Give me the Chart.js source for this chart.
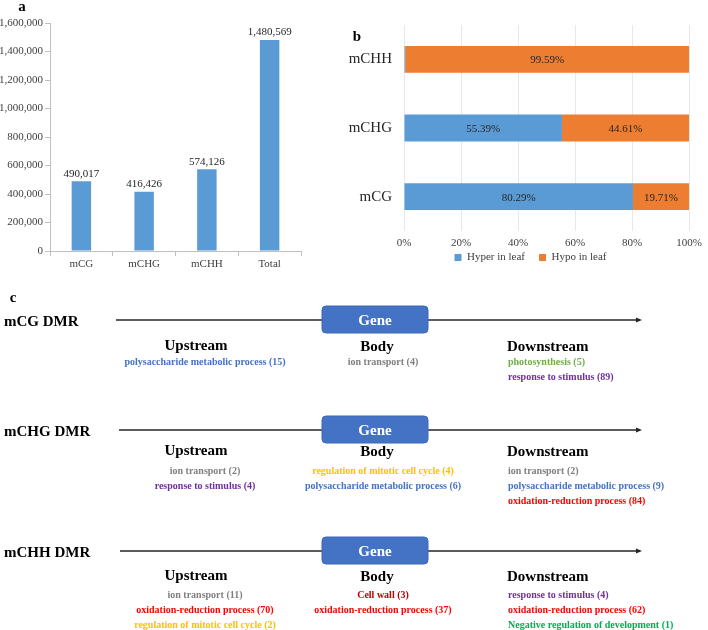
<!DOCTYPE html>
<html>
<head>
<meta charset="utf-8">
<script src="https://cdn.jsdelivr.net/npm/chart.js@4.4.0/dist/chart.umd.min.js"></script>
<style>
  body { margin: 0; background: #fff; }
  #page { position: relative; width: 708px; height: 630px; overflow: hidden; }
  #chartA { position: absolute; left: 0; top: 0; }
  #chartB { position: absolute; left: 340px; top: 0; }
  #diagram { position: absolute; left: 0; top: 0; }
</style>
</head>
<body>
<div id="page">
  <canvas id="chartA" width="320" height="280"></canvas>
  <canvas id="chartB" width="368" height="273"></canvas>
  <svg id="diagram" width="708" height="630" xmlns="http://www.w3.org/2000/svg"></svg>
</div>
<script>
// panel a: number of methylated sites
const countCategories = ['mCG', 'mCHG', 'mCHH', 'Total'];
const countValues = [490017, 416426, 574126, 1480569];
const countTicks = [0, 200000, 400000, 600000, 800000, 1000000, 1200000, 1400000, 1600000];

// panel b: share of DMRs (top to bottom)
const dmrTypes = ['mCHH', 'mCHG', 'mCG'];
const hyperShare = [0.41, 55.39, 80.29];
const hypoShare = [99.59, 44.61, 19.71];
const shareTicks = [0, 20, 40, 60, 80, 100];

// panel c: enriched GO terms per region
const dmrNames = ['mCG DMR', 'mCHG DMR', 'mCHH DMR'];
const regionNames = ['Upstream', 'Body', 'Downstream'];
const upstreamTerms = [
    [['polysaccharide metabolic process (15)', 'blue']],
    [['ion transport (2)', 'gray'], ['response to stimulus (4)', 'purple']],
    [['ion transport (11)', 'gray'], ['oxidation-reduction process (70)', 'red'], ['regulation of mitotic cell cycle (2)', 'yellow']]
];
const bodyTerms = [
    [['ion transport (4)', 'gray']],
    [['regulation of mitotic cell cycle (4)', 'yellow'], ['polysaccharide metabolic process (6)', 'blue']],
    [['Cell wall (3)', 'darkred'], ['oxidation-reduction process (37)', 'red']]
];
const downstreamTerms = [
    [['photosynthesis (5)', 'green'], ['response to stimulus (89)', 'purple']],
    [['ion transport (2)', 'gray'], ['polysaccharide metabolic process (9)', 'blue'], ['oxidation-reduction process (84)', 'red']],
    [['response to stimulus (4)', 'purple'], ['oxidation-reduction process (62)', 'red'], ['Negative regulation of development (1)', 'brightgreen']]
];

const SERIF = "'Liberation Serif', 'Times New Roman', serif";
Chart.defaults.font.family = SERIF;
Chart.defaults.font.size = 11;
Chart.defaults.color = '#404040';

// draws value labels on top of bars or in the middle of stacked segments
const valueLabels = {
    id: 'valueLabels',
    afterDatasetsDraw(chart, args, opts) {
        const ctx = chart.ctx;
        ctx.save();
        ctx.font = '11px ' + SERIF;
        ctx.fillStyle = '#262626';
        ctx.textAlign = 'center';
        chart.data.datasets.forEach((ds, i) => {
            chart.getDatasetMeta(i).data.forEach((bar, j) => {
                const v = ds.data[j];
                if (opts.mode === 'top') {
                    ctx.textBaseline = 'bottom';
                    ctx.fillText(v.toLocaleString('en-US'), bar.x, bar.y - 2);
                } else if (v > 5) {
                    ctx.textBaseline = 'middle';
                    ctx.fillText(v.toFixed(2) + '%', (bar.x + bar.base) / 2, bar.y + 1);
                }
            });
        });
        ctx.restore();
    }
};

// nudges the legend sideways (it is centred on the whole canvas otherwise)
const legendShift = {
    id: 'legendShift',
    afterLayout(chart, args, opts) {
        if (chart.legend) {
            chart.legend.left += opts.dx;
            chart.legend.right += opts.dx;
        }
    }
};

// Panel a
new Chart(document.getElementById('chartA'), {
    type: 'bar',
    data: {
        labels: countCategories,
        datasets: [{
            data: countValues,
            backgroundColor: '#5B9BD5',
            barPercentage: 0.31,
            categoryPercentage: 1
        }]
    },
    plugins: [valueLabels],
    options: {
        responsive: false,
        animation: false,
        layout: { padding: { top: 23, right: 19, left: 0, bottom: 0 } },
        plugins: {
            legend: { display: false },
            tooltip: { enabled: false },
            valueLabels: { mode: 'top' }
        },
        scales: {
            x: {
                grid: { offset: true, drawOnChartArea: false, tickLength: 5, color: '#bfbfbf' },
                border: { color: '#bfbfbf' },
                ticks: { padding: 2, color: '#404040' },
                afterFit: (s) => { s.height = 29; }
            },
            y: {
                min: 0,
                max: 1600000,
                afterBuildTicks: (s) => { s.ticks = countTicks.map(v => ({ value: v })); },
                grid: { drawOnChartArea: false, tickLength: 5, color: '#bfbfbf' },
                border: { color: '#bfbfbf' },
                ticks: { padding: 2, color: '#404040', callback: (v) => v.toLocaleString('en-US') },
                afterFit: (s) => { s.width = 50; }
            }
        }
    }
});

// Panel b
new Chart(document.getElementById('chartB'), {
    type: 'bar',
    data: {
        labels: dmrTypes,
        datasets: [
            { label: 'Hyper in leaf', data: hyperShare, backgroundColor: '#5B9BD5', barPercentage: 0.39, categoryPercentage: 1 },
            { label: 'Hypo in leaf', data: hypoShare, backgroundColor: '#ED7D31', barPercentage: 0.39, categoryPercentage: 1 }
        ]
    },
    plugins: [valueLabels, legendShift],
    options: {
        indexAxis: 'y',
        responsive: false,
        animation: false,
        layout: { padding: { top: 25, right: 13, left: 0, bottom: 0 } },
        plugins: {
            legend: {
                position: 'bottom',
                labels: {
                    boxWidth: 7,
                    boxHeight: 7,
                    padding: 3,
                    color: '#404040',
                    font: { size: 11 },
                    // a wider gap between the two entries
                    generateLabels: (chart) => Chart.defaults.plugins.legend.labels.generateLabels(chart)
                        .map((item, i, arr) => {
                            if (i < arr.length - 1) item.text += '\u2003';
                            return item;
                        })
                }
            },
            legendShift: { dx: 13 },
            tooltip: { enabled: false },
            valueLabels: { mode: 'middle' }
        },
        scales: {
            x: {
                stacked: true,
                min: 0,
                max: 100,
                afterBuildTicks: (s) => { s.ticks = shareTicks.map(v => ({ value: v })); },
                grid: { drawTicks: false, color: '#e8e8e8' },
                border: { display: false },
                ticks: { padding: 6, color: '#404040', callback: (v) => v + '%' },
                afterFit: (s) => { s.height = 18; }
            },
            y: {
                stacked: true,
                grid: { display: false, drawTicks: false },
                border: { display: false },
                ticks: { padding: 12, color: '#262626', font: { size: 15 } },
                afterFit: (s) => { s.width = 64; }
            }
        }
    }
});

// Panel c: gene region diagram
const svg = document.getElementById('diagram');
const NS = 'http://www.w3.org/2000/svg';
const termColors = {
    blue: '#4472C4', gray: '#808080', green: '#70AD47', purple: '#7030A0',
    yellow: '#FFC000', red: '#FF0000', darkred: '#C00000', brightgreen: '#00B050'
};

function addText(str, x, y, size, color, anchor, weight) {
    const t = document.createElementNS(NS, 'text');
    t.setAttribute('x', x);
    t.setAttribute('y', y);
    t.setAttribute('font-family', SERIF);
    t.setAttribute('font-size', size);
    t.setAttribute('font-weight', weight || 'bold');
    t.setAttribute('fill', color);
    t.setAttribute('text-anchor', anchor);
    t.setAttribute('dominant-baseline', 'central');
    t.textContent = str;
    svg.appendChild(t);
}

function addEl(tag, attrs) {
    const el = document.createElementNS(NS, tag);
    Object.entries(attrs).forEach(([k, v]) => el.setAttribute(k, v));
    svg.appendChild(el);
}

// panel letters
addText('a', 22, 6, 15, '#000', 'middle');
addText('b', 357, 36, 15, '#000', 'middle');
addText('c', 13, 297, 15, '#000', 'middle');

// row layout: line y, heading offset, first term offset
const rowLayout = [
    { y: 320, head: 25, term: 41, lineStart: 116 },
    { y: 430, head: 20, term: 40, lineStart: 119 },
    { y: 551, head: 24, term: 43, lineStart: 120 }
];

dmrNames.forEach((name, r) => {
    const L = rowLayout[r];
    addText(name, 4, L.y + 1, 15, '#000', 'start');
    addEl('line', { x1: L.lineStart, y1: L.y, x2: 636, y2: L.y, stroke: '#262626', 'stroke-width': 1.4 });
    addEl('path', { d: `M636,${L.y - 2.5} L642,${L.y} L636,${L.y + 2.5} Z`, fill: '#262626' });
    addEl('rect', { x: 322, y: L.y - 14, width: 106, height: 27, rx: 4, fill: '#4472C4', stroke: '#3d69b8', 'stroke-width': 1 });
    addText('Gene', 375, L.y, 15, '#fff', 'middle');

    addText(regionNames[0], 196, L.y + L.head, 15, '#000', 'middle');
    addText(regionNames[1], 377, L.y + L.head + 1, 15, '#000', 'middle');
    addText(regionNames[2], 507, L.y + L.head + 1, 15, '#000', 'start');

    upstreamTerms[r].forEach(([t, c], i) => addText(t, 205, L.y + L.term + i * 15, 10, termColors[c], 'middle'));
    bodyTerms[r].forEach(([t, c], i) => addText(t, 383, L.y + L.term + i * 15, 10, termColors[c], 'middle'));
    downstreamTerms[r].forEach(([t, c], i) => addText(t, 508, L.y + L.term + i * 15, 10, termColors[c], 'start'));
});
</script>
</body>
</html>
